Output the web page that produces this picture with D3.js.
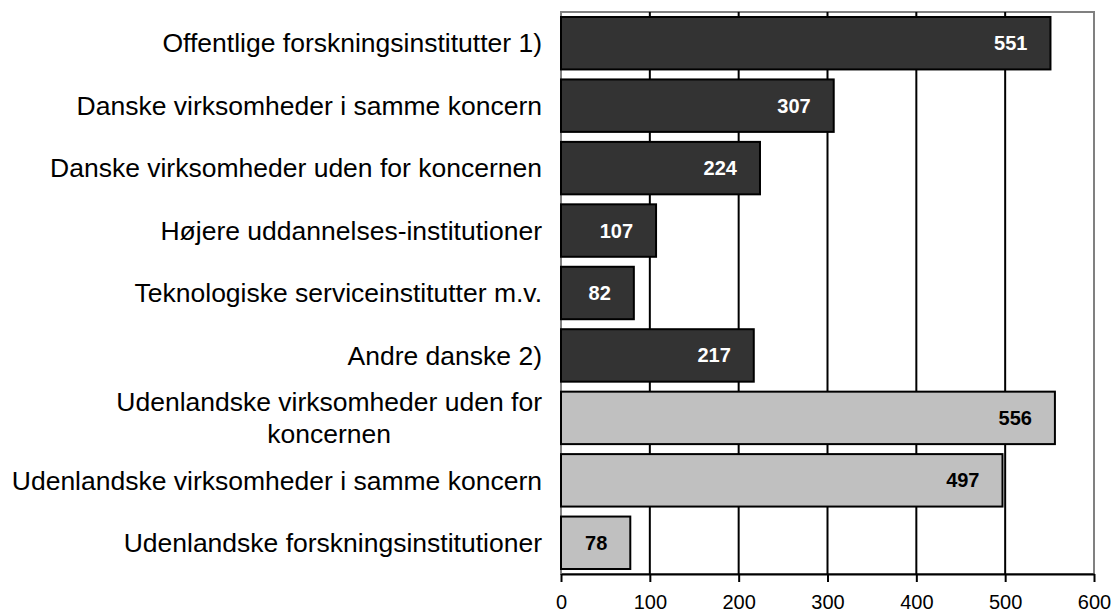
<!DOCTYPE html>
<html>
<head>
<meta charset="utf-8">
<script src="https://cdn.jsdelivr.net/npm/d3@7"></script>
<style>
  body { margin: 0; background: #fff; }
  text { font-family: "Liberation Sans", Arial, sans-serif; }
</style>
</head>
<body>
<div id="chart"></div>
<script>
// categories (top to bottom), one entry per line of the label
const categories = [
    ["Offentlige forskningsinstitutter 1)"],
    ["Danske virksomheder i samme koncern"],
    ["Danske virksomheder uden for koncernen"],
    ["Højere uddannelses-institutioner"],
    ["Teknologiske serviceinstitutter m.v."],
    ["Andre danske 2)"],
    ["Udenlandske virksomheder uden for", "koncernen"],
    ["Udenlandske virksomheder i samme koncern"],
    ["Udenlandske forskningsinstitutioner"]
];
const values = [551, 307, 224, 107, 82, 217, 556, 497, 78];
const groups = ["dk", "dk", "dk", "dk", "dk", "dk", "foreign", "foreign", "foreign"];
const xTicks = [0, 100, 200, 300, 400, 500, 600];

const W = 1115, H = 614;
const margin = {top: 12, right: 21, bottom: 40, left: 561};

const svg = d3.select("#chart").append("svg")
    .attr("width", W)
    .attr("height", H);

const x = d3.scaleLinear()
    .domain([0, 600])
    .range([margin.left, W - margin.right]);

const y = d3.scaleBand()
    .domain(d3.range(categories.length))
    .range([margin.top, H - margin.bottom])
    .paddingInner(0.16)
    .paddingOuter(0.08);

const fill = {dk: "#333333", foreign: "#c0c0c0"};
const labelColor = {dk: "#ffffff", foreign: "#000000"};

// plot frame
svg.append("rect")
    .attr("x", x(0))
    .attr("y", margin.top)
    .attr("width", x(600) - x(0))
    .attr("height", H - margin.bottom - margin.top)
    .attr("fill", "none")
    .attr("stroke", "#808080")
    .attr("stroke-width", 2);

// gridlines
svg.selectAll(".grid")
    .data(xTicks.filter(d => d > 0 && d < 600))
    .enter().append("line")
    .attr("x1", d => x(d))
    .attr("x2", d => x(d))
    .attr("y1", margin.top)
    .attr("y2", H - margin.bottom)
    .attr("stroke", "#000")
    .attr("stroke-width", 2);

// bars
svg.selectAll(".bar")
    .data(values)
    .enter().append("rect")
    .attr("x", x(0))
    .attr("y", (d, i) => y(i))
    .attr("width", d => x(d) - x(0))
    .attr("height", y.bandwidth())
    .attr("fill", (d, i) => fill[groups[i]])
    .attr("stroke", "#000")
    .attr("stroke-width", 2);

// value labels
svg.selectAll(".val")
    .data(values)
    .enter().append("text")
    .attr("x", d => x(d) - 23)
    .attr("y", (d, i) => y(i) + y.bandwidth() / 2)
    .attr("dy", "0.35em")
    .attr("text-anchor", "end")
    .attr("font-size", "20px")
    .attr("font-weight", "bold")
    .attr("fill", (d, i) => labelColor[groups[i]])
    .text(d => d);

// category labels: block right-aligned, wrapped lines centred in the block
const labelRight = 542;
categories.forEach((lines, i) => {
    const cy = y(i) + y.bandwidth() / 2;
    const lh = 32;
    const t = svg.append("text")
        .attr("font-size", "26.5px")
        .attr("fill", "#000");
    const spans = lines.map((ln, j) => t.append("tspan")
        .attr("y", cy + (j - (lines.length - 1) / 2) * lh)
        .attr("dy", "0.35em")
        .text(ln));
    if (lines.length === 1) {
        spans[0].attr("x", labelRight).attr("text-anchor", "end");
    } else {
        const wMax = d3.max(spans, s => s.node().getComputedTextLength());
        spans.forEach(s => s.attr("x", labelRight - wMax / 2).attr("text-anchor", "middle"));
    }
});

// x axis
const axis = svg.append("g")
    .attr("transform", `translate(0,${H - margin.bottom})`)
    .call(d3.axisBottom(x).tickValues(xTicks).tickSize(8).tickSizeOuter(0));
axis.select(".domain").attr("stroke", "#000").attr("stroke-width", 2);
axis.selectAll(".tick line").attr("stroke", "#000").attr("stroke-width", 2);
axis.selectAll(".tick text")
    .attr("font-family", "'Liberation Sans', Arial, sans-serif")
    .attr("font-size", "20px")
    .attr("fill", "#000")
    .attr("y", 21);
</script>
</body>
</html>
